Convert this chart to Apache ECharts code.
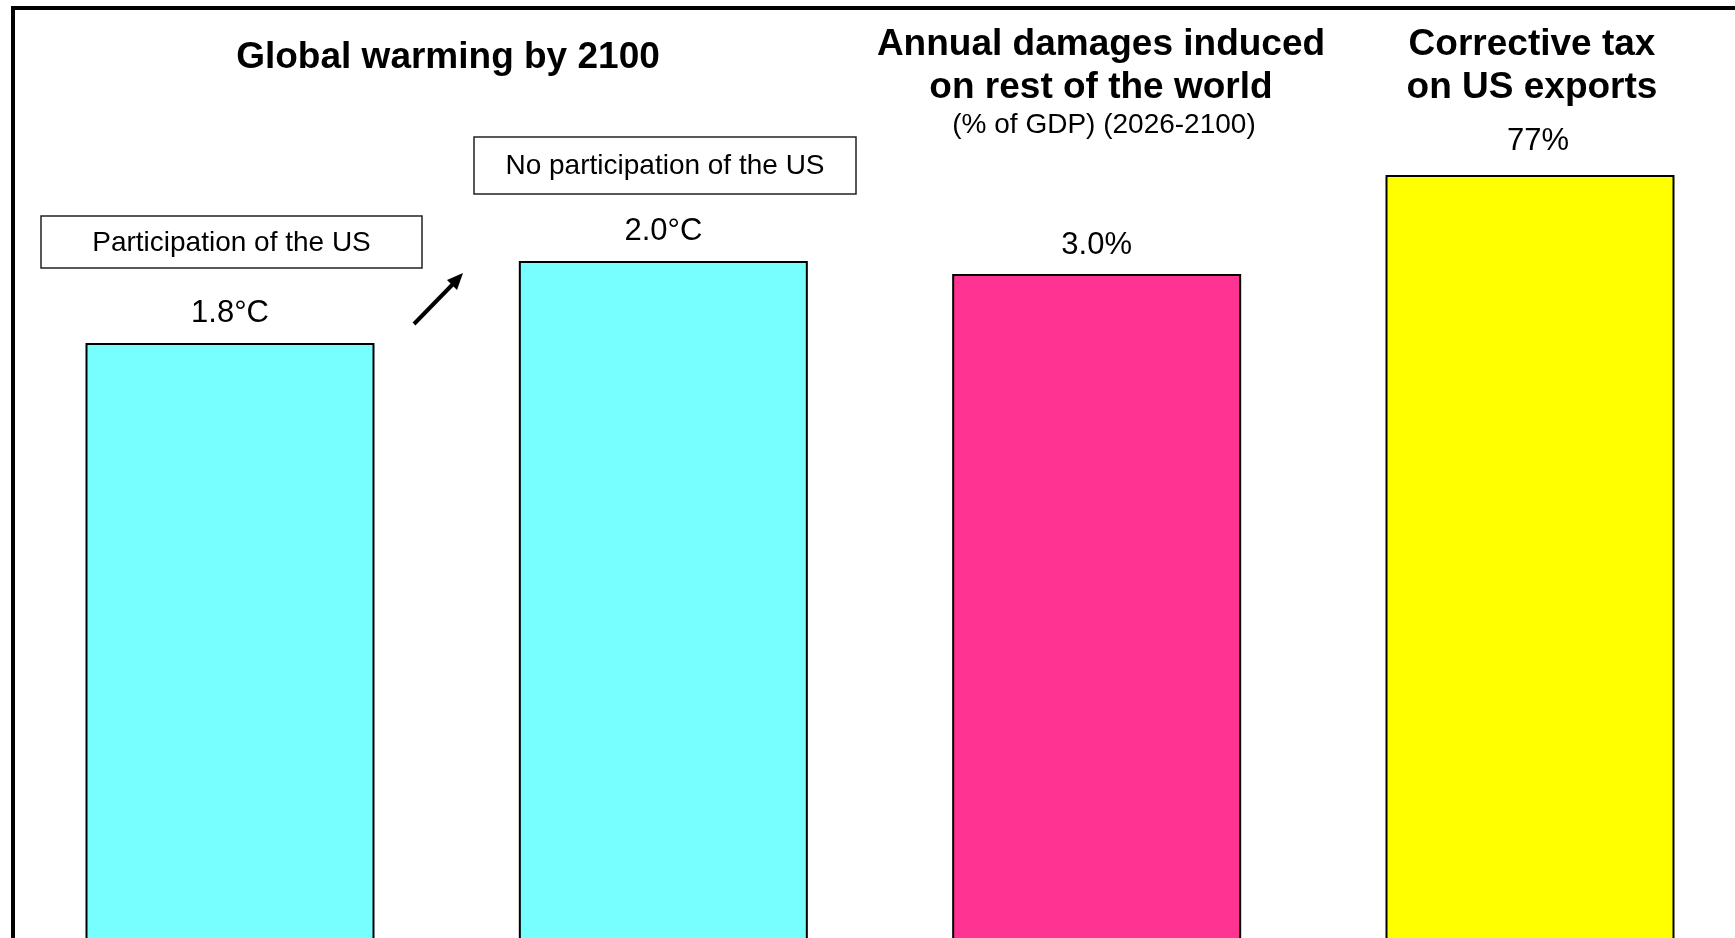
<!DOCTYPE html>
<html>
<head>
<meta charset="utf-8">
<script src="https://cdn.jsdelivr.net/npm/echarts@6/dist/echarts.min.js"></script>
<style>
html,body{margin:0;padding:0;background:#fff;}
#chart{width:1735px;height:938px;}
</style>
</head>
<body>
<div id="chart"></div>
<script>
// ---- Data ----
const categories = ['Participation of the US', 'No participation of the US', 'Annual damages', 'Corrective tax'];
const warmingValues = [1.8, 2.0, '-', '-'];   // °C by 2100
const damagesValues = ['-', '-', 3.0, '-'];   // % of GDP
const taxValues = ['-', '-', '-', 77];        // %
const scenarioLabels = ['Participation of the US', 'No participation of the US'];
const panelTitles = [
  ['Global warming by 2100'],
  ['Annual damages induced', 'on rest of the world'],
  ['Corrective tax', 'on US exports']
];
const damagesSubtitle = '(% of GDP) (2026-2100)';

// ---- Styling / layout ----
const FONT = '"Liberation Sans", Arial, Helvetica, sans-serif';
const CYAN = '#77FFFF', PINK = '#FF3391', YELLOW = '#FFFF00';

const chart = echarts.init(document.getElementById('chart'), null, {renderer: 'canvas'});

function barSeries(name, data, yIdx, color, fmt, dist, offset) {
  return {
    name: name, type: 'bar', data: data, yAxisIndex: yIdx,
    barWidth: 289, barGap: '-100%', clip: false,
    itemStyle: {color: color, borderColor: '#000', borderWidth: 2},
    label: {
      show: true, position: 'top', distance: dist, offset: offset || [0, 0],
      fontFamily: FONT, fontSize: 31, color: '#000',
      formatter: fmt
    },
    emphasis: {disabled: true}, silent: true, animation: false
  };
}

function titleText(lines, cx, y0, lh) {
  return lines.map((t, i) => ({
    type: 'text', x: cx, y: y0 + i * lh,
    style: {text: t, font: 'bold 37px ' + FONT, fill: '#000', align: 'center', verticalAlign: 'middle'}
  }));
}

function boxLabel(text, x1, y1, x2, y2) {
  return [
    {type: 'rect', shape: {x: x1, y: y1, width: x2 - x1, height: y2 - y1},
     style: {fill: '#fff', stroke: '#222', lineWidth: 1.5}},
    {type: 'text', x: (x1 + x2) / 2, y: (y1 + y2) / 2 + 1,
     style: {text: text, font: '28px ' + FONT, fill: '#000', align: 'center', verticalAlign: 'middle'}}
  ];
}

const graphics = [].concat(
  [{type: 'rect', shape: {x: 13, y: 8, width: 1760, height: 1000},
    style: {fill: 'none', stroke: '#000', lineWidth: 4}}],
  titleText(panelTitles[0], 448, 58, 43),
  titleText(panelTitles[1], 1101, 45, 43),
  titleText(panelTitles[2], 1532, 45, 43),
  [{type: 'text', x: 1104, y: 125,
    style: {text: damagesSubtitle, font: '28px ' + FONT, fill: '#000', align: 'center', verticalAlign: 'middle'}}],
  boxLabel(scenarioLabels[0], 41, 216, 422, 268),
  boxLabel(scenarioLabels[1], 474, 137, 856, 194),
  [
    {type: 'line', shape: {x1: 414, y1: 324, x2: 453, y2: 284},
     style: {stroke: '#000', lineWidth: 4}},
    {type: 'polygon', shape: {points: [[463, 273], [457, 290], [447, 280]]},
     style: {fill: '#000'}}
  ]
);

// Bars sit on ticks of a non-boundary category axis; the zero baseline lies below the canvas.
const option = {
  backgroundColor: '#fff',
  animation: false,
  grid: {left: 230, right: 205, top: 0, bottom: 0, containLabel: false},
  xAxis: {type: 'category', data: categories, show: false, boundaryGap: false},
  yAxis: [
    {type: 'value', min: 0.3488, max: 2.6366, show: false},
    {type: 'value', min: 0.5316, max: 4.0186, show: false},
    {type: 'value', min: 12.153, max: 91.87, show: false}
  ],
  series: [
    barSeries('Global warming', warmingValues, 0, CYAN, p => Number(p.value).toFixed(1) + '°C', 14),
    barSeries('Damages', damagesValues, 1, PINK, p => Number(p.value).toFixed(1) + '%', 13),
    barSeries('Corrective tax', taxValues, 2, YELLOW, p => p.value + '%', 18, [8, 0])
  ],
  graphic: graphics
};
chart.setOption(option);
</script>
</body>
</html>
